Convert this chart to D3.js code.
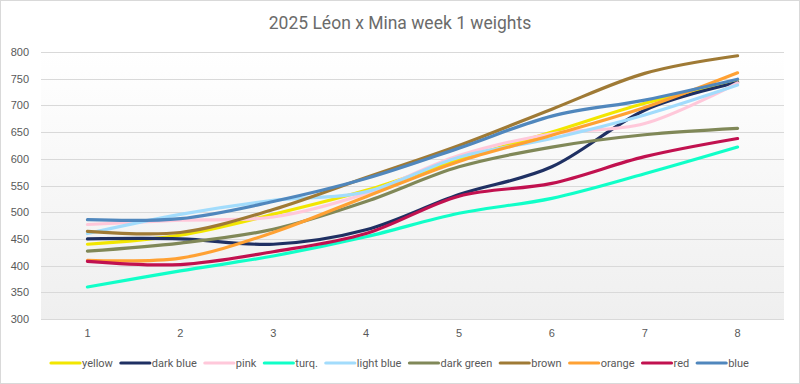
<!DOCTYPE html>
<html>
<head>
<meta charset="utf-8">
<script src="https://cdn.jsdelivr.net/npm/d3@7"></script>
<style>
  body { margin: 0; background: #fff; }
  svg { display: block; font-family: Roboto, "Noto Sans", sans-serif; }
</style>
</head>
<body>
<div id="graph"></div>
<script>
var weeks = [1, 2, 3, 4, 5, 6, 7, 8];
var names = ["yellow", "dark blue", "pink", "turq.", "light blue", "dark green", "brown", "orange", "red", "blue"];
var colors = ["#f2e600", "#1f3063", "#ffc8da", "#10ffc8", "#a2dcfc", "#808858", "#9f7a35", "#ffa133", "#c1114f", "#5087bd"];

var yellow    = [440, 457, 496, 541, 598, 650, 704, 745];
var darkBlue  = [450, 450, 440, 467, 533, 585, 691, 743];
var pink      = [477, 485, 491, 535, 606, 647, 666, 742];
var turq      = [360, 390, 418, 454, 498, 526, 572, 622];
var lightBlue = [460, 496, 522, 538, 603, 638, 682, 738];
var darkGreen = [427, 442, 468, 520, 585, 622, 645, 657];
var brown     = [464, 462, 505, 565, 625, 693, 760, 793];
var orange    = [410, 414, 462, 529, 595, 644, 696, 761];
var red       = [408, 402, 426, 460, 530, 554, 604, 638];
var blue      = [486, 488, 520, 563, 620, 680, 710, 749];

var yTicks = [300, 350, 400, 450, 500, 550, 600, 650, 700, 750, 800];

var series = [yellow, darkBlue, pink, turq, lightBlue, darkGreen, brown, orange, red, blue];

var width = 800, height = 384;
var plotLeft = 41, plotRight = 784, plotTop = 52, plotBottom = 319;

var svg = d3.select("#graph")
  .append("svg")
  .attr("width", width)
  .attr("height", height);

// chart frame
svg.append("rect")
  .attr("x", 0.5).attr("y", 0.5)
  .attr("width", width - 1).attr("height", height - 1)
  .attr("fill", "#fff")
  .attr("stroke", "#d9d9d9");

var grad = svg.append("defs").append("linearGradient")
  .attr("id", "bg").attr("x1", 0).attr("y1", 0).attr("x2", 0).attr("y2", 1);
grad.append("stop").attr("offset", "0%").attr("stop-color", "#ffffff");
grad.append("stop").attr("offset", "100%").attr("stop-color", "#efefef");

svg.append("rect")
  .attr("x", plotLeft).attr("y", plotTop)
  .attr("width", plotRight - plotLeft).attr("height", plotBottom - plotTop)
  .attr("fill", "url(#bg)");

var x = d3.scaleBand().domain(weeks).range([plotLeft, plotRight]);
var y = d3.scaleLinear().domain([300, 800]).range([plotBottom, plotTop]);

// gridlines
svg.append("g")
  .selectAll("line")
  .data(yTicks)
  .enter().append("line")
  .attr("x1", plotLeft).attr("x2", plotRight)
  .attr("y1", (d) => Math.round(y(d)) + 0.5)
  .attr("y2", (d) => Math.round(y(d)) + 0.5)
  .attr("stroke", "#d9d9d9")
  .attr("stroke-width", 1);

var yAxis = svg.append("g")
  .attr("transform", "translate(" + (plotLeft - 12) + ",0)")
  .call(d3.axisLeft(y).tickValues(yTicks).tickSize(0).tickPadding(0));
yAxis.select(".domain").remove();
yAxis.selectAll("text")
  .attr("fill", "#595959")
  .style("font-size", "11px");

var xAxis = svg.append("g")
  .attr("transform", "translate(0," + (plotBottom + 10) + ")")
  .call(d3.axisBottom(x).tickSize(0).tickPadding(0));
xAxis.select(".domain").remove();
xAxis.selectAll("text")
  .attr("fill", "#595959")
  .style("font-size", "11px");

var line = d3.line()
  .x((d, i) => x(weeks[i]) + x.bandwidth() / 2)
  .y((d) => y(d))
  .curve(d3.curveCatmullRom.alpha(0));

svg.append("g")
  .selectAll("path")
  .data(series)
  .enter().append("path")
  .attr("d", line)
  .attr("fill", "none")
  .attr("stroke", (d, i) => colors[i])
  .attr("stroke-width", 3.2)
  .attr("stroke-linecap", "round")
  .attr("stroke-linejoin", "round");

svg.append("text")
  .attr("x", width / 2)
  .attr("y", 29)
  .attr("text-anchor", "middle")
  .attr("fill", "#6b6b6b")
  .style("font-size", "17.5px")
  .text("2025 Léon x Mina week 1 weights");

// legend, laid out from measured text widths and centred
var legend = svg.append("g");
var items = legend.selectAll("g")
  .data(names)
  .enter().append("g");
items.append("line")
  .attr("x1", 0).attr("x2", 29)
  .attr("y1", 0).attr("y2", 0)
  .attr("stroke", (d, i) => colors[i])
  .attr("stroke-width", 3.2)
  .attr("stroke-linecap", "round");
items.append("text")
  .attr("x", 31)
  .attr("y", 4)
  .attr("fill", "#595959")
  .style("font-size", "11px")
  .text((d) => d);

var pos = 0;
items.each(function() {
  var w = 31 + d3.select(this).select("text").node().getComputedTextLength();
  d3.select(this).attr("transform", "translate(" + pos + ",0)");
  pos += w + 8;
});
pos -= 8;
legend.attr("transform", "translate(" + Math.round(width / 2 - pos / 2) + ",363)");
</script>
</body>
</html>
